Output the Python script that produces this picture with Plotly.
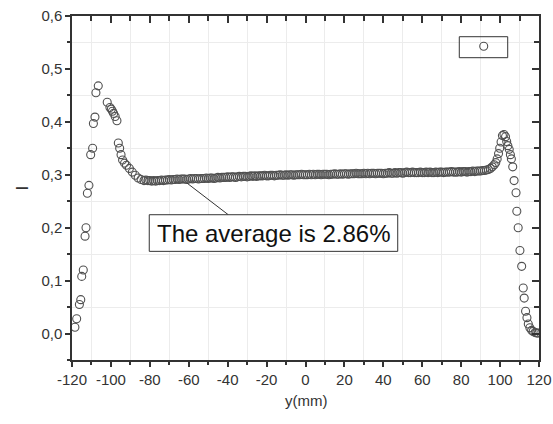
import plotly.graph_objects as go

# Rising edge and first peak on the left wall
left_x = [-118.5, -117.6, -116.2, -115.5, -115.0, -114.2, -113.3, -112.8, -112.1, -111.3,
          -110.4, -109.4, -109.0, -108.2, -107.7, -106.5,
          -101.9, -100.5, -99.8, -99.2, -98.6, -97.8, -96.9, -96.2, -95.5, -94.8,
          -94.0, -93.0, -92.0, -90.5, -89.0, -87.5, -86.0, -84.5, -83.0]
left_y = [0.012, 0.028, 0.055, 0.064, 0.108, 0.120, 0.184, 0.200, 0.265, 0.280,
          0.338, 0.350, 0.397, 0.409, 0.455, 0.468,
          0.437, 0.427, 0.424, 0.420, 0.416, 0.410, 0.402, 0.360, 0.350, 0.338,
          0.328, 0.322, 0.318, 0.312, 0.305, 0.299, 0.294, 0.291, 0.289]

# Plateau across the channel
mid_x = [-82, -81, -80, -79, -78, -77, -76, -75, -74, -73,
         -72, -71, -70, -69, -68, -67, -66, -65, -64, -63,
         -62, -61, -60, -59, -58, -57, -56, -55, -54, -53,
         -52, -51, -50, -49, -48, -47, -46, -45, -44, -43,
         -42, -41, -40, -39, -38, -37, -36, -35, -34, -33,
         -32, -31, -30, -29, -28, -27, -26, -25, -24, -23,
         -22, -21, -20, -19, -18, -17, -16, -15, -14, -13,
         -12, -11, -10, -9, -8, -7, -6, -5, -4, -3,
         -2, -1, 0, 1, 2, 3, 4, 5, 6, 7,
         8, 9, 10, 11, 12, 13, 14, 15, 16, 17,
         18, 19, 20, 21, 22, 23, 24, 25, 26, 27,
         28, 29, 30, 31, 32, 33, 34, 35, 36, 37,
         38, 39, 40, 41, 42, 43, 44, 45, 46, 47,
         48, 49, 50, 51, 52, 53, 54, 55, 56, 57,
         58, 59, 60, 61, 62, 63, 64, 65, 66, 67,
         68, 69, 70, 71, 72, 73, 74, 75, 76, 77,
         78, 79, 80, 81, 82, 83, 84, 85, 86, 87,
         88, 89]
mid_y = [0.290, 0.289, 0.289, 0.288, 0.289, 0.288, 0.289, 0.289, 0.290, 0.289,
         0.290, 0.290, 0.291, 0.290, 0.291, 0.291, 0.292, 0.291, 0.292, 0.292,
         0.292, 0.291, 0.292, 0.293, 0.292, 0.293, 0.293, 0.292, 0.293, 0.293,
         0.293, 0.294, 0.293, 0.294, 0.294, 0.293, 0.294, 0.295, 0.294, 0.295,
         0.295, 0.295, 0.296, 0.295, 0.296, 0.296, 0.295, 0.296, 0.297, 0.296,
         0.297, 0.297, 0.296, 0.297, 0.298, 0.297, 0.298, 0.297, 0.298, 0.298,
         0.298, 0.299, 0.298, 0.298, 0.299, 0.299, 0.298, 0.299, 0.299, 0.300,
         0.299, 0.299, 0.300, 0.299, 0.300, 0.300, 0.299, 0.300, 0.300, 0.300,
         0.301, 0.300, 0.300, 0.300, 0.301, 0.300, 0.301, 0.300, 0.301, 0.301,
         0.300, 0.301, 0.301, 0.301, 0.300, 0.301, 0.301, 0.302, 0.301, 0.301,
         0.302, 0.301, 0.302, 0.302, 0.301, 0.302, 0.302, 0.302, 0.303, 0.302,
         0.302, 0.302, 0.303, 0.302, 0.303, 0.302, 0.303, 0.303, 0.302, 0.303,
         0.303, 0.303, 0.302, 0.303, 0.303, 0.304, 0.303, 0.303, 0.304, 0.303,
         0.304, 0.304, 0.303, 0.304, 0.305, 0.304, 0.304, 0.305, 0.304, 0.304,
         0.304, 0.305, 0.304, 0.304, 0.305, 0.304, 0.305, 0.304, 0.304, 0.305,
         0.304, 0.305, 0.305, 0.304, 0.305, 0.305, 0.305, 0.306, 0.305, 0.305,
         0.305, 0.306, 0.305, 0.306, 0.306, 0.305, 0.306, 0.306, 0.307, 0.306,
         0.307, 0.307]

# Second peak and falling edge on the right wall
right_x = [90, 91, 92, 93, 94, 95, 96, 97, 97.8, 98.5,
           99.2, 99.8, 100.5, 101.2, 102.0, 102.8, 103.4, 104.0, 104.7, 105.3,
           105.8, 106.5, 107.2, 108.2, 108.6, 109.3, 110.2, 111.1, 111.9, 112.4,
           113.1, 113.8, 114.5, 115.3, 116.2, 117.0, 118.0, 118.8, 119.5]
right_y = [0.307, 0.308, 0.308, 0.309, 0.310, 0.312, 0.315, 0.319, 0.323, 0.330,
           0.340, 0.350, 0.362, 0.374, 0.376, 0.372, 0.363, 0.355, 0.348, 0.338,
           0.330, 0.315, 0.289, 0.266, 0.231, 0.200, 0.157, 0.127, 0.086, 0.067,
           0.042, 0.030, 0.018, 0.011, 0.006, 0.004, 0.002, 0.001, 0.001]

x_ticks = [-120, -100, -80, -60, -40, -20, 0, 20, 40, 60, 80, 100, 120]
x_tick_text = ["-120", "-100", "-80", "-60", "-40", "-20", "0", "20", "40",
               "60", "80", "100", "120"]
x_minor = [-110, -90, -70, -50, -30, -10, 10, 30, 50, 70, 90, 110]
y_ticks = [0.0, 0.1, 0.2, 0.3, 0.4, 0.5, 0.6]
y_minor = [-0.05, 0.05, 0.15, 0.25, 0.35, 0.45, 0.55]
y_tick_text = ["0,0", "0,1", "0,2", "0,3", "0,4", "0,5", "0,6"]
x_title = "y(mm)"
y_title = "I"

x_range = [-120, 120]
y_range = [-0.05, 0.6]

label_text = "The average is 2.86%"
label_box = dict(x0=-80.3, x1=47.4, y0=0.1553, y1=0.2245)
pointer = dict(x0=-60.8, y0=0.284, x1=-39.7, y1=0.2245)
legend_frame = dict(x0=0.8293, x1=0.933, y0=0.8788, y1=0.9398)

ink = "#333333"
grid = "#ececec"
font = "Liberation Sans, Arial, sans-serif"

fig = go.Figure()
fig.add_trace(go.Scatter(
    x=left_x + mid_x + right_x,
    y=left_y + mid_y + right_y,
    mode="markers",
    name=" ",
    marker=dict(symbol="circle-open", size=8, color="#505050", line=dict(width=1.1)),
    showlegend=True,
))
# empty trace to carry the mirrored top/right axes
fig.add_trace(go.Scatter(x=[], y=[], xaxis="x2", yaxis="y2", showlegend=False,
                         hoverinfo="skip"))

common = dict(showline=True, linecolor=ink, linewidth=1.5, zeroline=False,
              showgrid=False, automargin=False)

fig.update_layout(
    width=553, height=424,
    margin=dict(l=72, r=14, t=16, b=64),
    paper_bgcolor="white", plot_bgcolor="white",
    font=dict(family=font, color=ink, size=15),
    xaxis=dict(range=x_range, tickvals=x_ticks, ticktext=x_tick_text,
               ticks="outside", ticklen=5, tickwidth=1.5, tickcolor=ink,
               minor=dict(tickvals=x_minor, ticks="outside", ticklen=3,
                          tickcolor=ink, showgrid=True, gridcolor=grid,
                          gridwidth=1),
               tickfont=dict(size=15), **common),
    yaxis=dict(range=y_range, tickvals=y_ticks, ticktext=y_tick_text,
               ticks="outside", ticklen=5, tickwidth=1.5, tickcolor=ink,
               minor=dict(tickvals=y_minor, ticks="outside", ticklen=3,
                          tickcolor=ink, showgrid=True, gridcolor=grid,
                          gridwidth=1),
               title=dict(text=y_title, font=dict(size=17), standoff=8),
               tickfont=dict(size=15), **common),
    xaxis2=dict(overlaying="x", side="top", anchor="y2", range=x_range,
                tickvals=x_ticks, ticks="inside", ticklen=7, tickwidth=1.5,
                tickcolor=ink, showticklabels=False,
                minor=dict(tickvals=x_minor, ticks="inside", ticklen=5,
                           tickcolor=ink),
                **common),
    yaxis2=dict(overlaying="y", side="right", anchor="x2", range=y_range,
                tickvals=y_ticks, ticks="inside", ticklen=7, tickwidth=1.5,
                tickcolor=ink, showticklabels=False,
                minor=dict(tickvals=y_minor, ticks="inside", ticklen=5,
                           tickcolor=ink),
                **common),
    legend=dict(x=0.8388, y=0.9544, xanchor="left", yanchor="top",
                borderwidth=0, bgcolor="rgba(0,0,0,0)",
                font=dict(size=9), itemwidth=30, tracegroupgap=0),
    showlegend=True,
)

# x-axis title, set just below the tick labels
fig.add_annotation(x=0.5, y=-0.1163, xref="paper", yref="paper",
                   text=x_title, showarrow=False, yanchor="middle",
                   font=dict(size=15, color=ink, family=font))

fig.add_shape(type="rect", xref="paper", yref="paper", layer="above",
              line=dict(color=ink, width=1), fillcolor="rgba(0,0,0,0)",
              **legend_frame)
fig.add_shape(type="line", xref="x", yref="y", layer="above",
              line=dict(color=ink, width=1), **pointer)
fig.add_shape(type="rect", xref="x", yref="y", layer="above",
              line=dict(color=ink, width=1), fillcolor="white", **label_box)
fig.add_annotation(x=(label_box["x0"] + label_box["x1"]) / 2,
                   y=(label_box["y0"] + label_box["y1"]) / 2,
                   xref="x", yref="y", text=label_text, showarrow=False,
                   font=dict(size=24, color="#111111", family=font))

fig.write_html("out.html")
